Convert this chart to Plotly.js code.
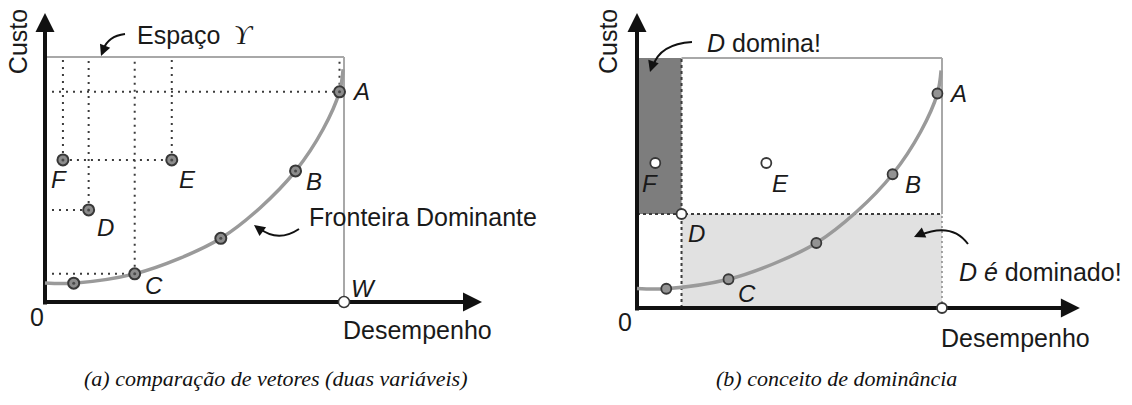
<!DOCTYPE html>
<html>
<head>
<meta charset="utf-8">
<script src="https://cdn.plot.ly/plotly-3.0.1.min.js"></script>
<style>html,body{margin:0;padding:0;background:#fff;}#chart{width:1132px;height:405px;}</style>
</head>
<body>
<div id="chart"></div>
<script>
// ---- data (unit box: Desempenho 0..1, Custo 0..1) ----
const frontX = [0.096, 0.300, 0.588, 0.838, 0.985];
const frontY = [0.077, 0.115, 0.260, 0.535, 0.858];
const frontLabels = ['', 'C', '', 'B', 'A'];
const otherX = [0.060, 0.424, 0.146];
const otherY = [0.580, 0.580, 0.376];
const otherLabels = ['F', 'E', 'D'];
const worstX = [1.0];
const worstY = [0.0];
const worstLabels = ['W'];
const curveX = [0.000, 0.096, 0.300, 0.450, 0.588, 0.720, 0.838, 0.930, 0.985, 0.997];
const curveY = [0.078, 0.077, 0.115, 0.178, 0.260, 0.385, 0.535, 0.705, 0.858, 0.950];
const boxMax = 1.0;
const texts = {
  yTitle: 'Custo', xTitle: 'Desempenho', origin: '0',
  space: 'Espaço', spaceSym: 'ϒ', frontier: 'Fronteira Dominante',
  dom: '<i>D</i> domina!', domd: '<i>D</i> <i>é</i> dominado!',
  capA: '(a) comparação de vetores (duas variáveis)',
  capB: '(b) conceito de dominância'
};

const SANS = 'Liberation Sans, Arial, sans-serif';
const SERIF = 'Liberation Serif, Times New Roman, serif';
const DOT = '#3c3c3c';
const BOXC = '#a8a8a8';
const FS = 25;

const iD = otherLabels.indexOf('D');
const Dx = otherX[iD], Dy = otherY[iD];

const traces = [];
const shapes = [];
const annotations = [];

function line(xr, yr, x0, y0, x1, y1, color, width, dash) {
  shapes.push({type: 'line', xref: xr, yref: yr, x0: x0, y0: y0, x1: x1, y1: y1,
    layer: 'below', line: {color: color, width: width, dash: dash || 'solid'}});
}
function txt(xr, yr, x, y, text, opts) {
  annotations.push(Object.assign({xref: xr, yref: yr, x: x, y: y, text: text, showarrow: false,
    font: {family: SANS, size: FS, color: '#1a1a1a'}, xanchor: 'center', yanchor: 'middle'}, opts || {}));
}
function head(xr, yr, x, y, ax, ay, width, size) {
  annotations.push({xref: xr, yref: yr, x: x, y: y, ax: ax, ay: ay, text: '', showarrow: true,
    arrowhead: 2, arrowsize: size, arrowwidth: width, arrowcolor: '#111'});
}
const LBL = {family: SANS, size: 24, color: '#1a1a1a'};

// ---------------- panel (a) ----------------
(function () {
  const xr = 'x', yr = 'y';
  line(xr, yr, 0, boxMax, boxMax, boxMax, BOXC, 2);
  line(xr, yr, boxMax, 0, boxMax, boxMax, BOXC, 2);
  const dash = '2px,5px';
  const allX = frontX.concat(otherX), allY = frontY.concat(otherY), allL = frontLabels.concat(otherLabels);
  ['F', 'D', 'C', 'E', 'A'].forEach(function (l) {
    const i = allL.indexOf(l);
    line(xr, yr, allX[i], allY[i], allX[i], boxMax, DOT, 2, dash);
  });
  ['A', 'D', 'C'].forEach(function (l) {
    const i = allL.indexOf(l);
    line(xr, yr, 0, allY[i], allX[i], allY[i], DOT, 2, dash);
  });
  const iF = allL.indexOf('F'), iE = allL.indexOf('E');
  line(xr, yr, allX[iF], allY[iF], allX[iE], allY[iE], DOT, 2, dash);
  line(xr, yr, 0, -0.01, 0, 1.12, '#111', 4);
  line(xr, yr, -0.005, 0, 1.40, 0, '#111', 4);
  head(xr, yr, 0, 1.18, 0, 22, 4, 0.95);
  head(xr, yr, 1.4615, 0, -22, 0, 4, 0.95);

  traces.push({x: curveX, y: curveY, xaxis: 'x', yaxis: 'y', mode: 'lines',
    line: {shape: 'spline', smoothing: 1, color: '#9a9a9a', width: 3.5}, hoverinfo: 'skip'});
  traces.push({x: frontX.concat(otherX), y: frontY.concat(otherY), xaxis: 'x', yaxis: 'y', mode: 'markers',
    marker: {size: 11, color: '#8c8c8c', line: {color: '#383838', width: 2}}});
  traces.push({x: frontX.concat(otherX), y: frontY.concat(otherY), xaxis: 'x', yaxis: 'y', mode: 'markers',
    marker: {size: 3, color: '#4a4a4a'}});
  traces.push({x: worstX, y: worstY, xaxis: 'x', yaxis: 'y', mode: 'markers',
    marker: {size: 11, color: '#ffffff', line: {color: '#383838', width: 1.5}}});

  const off = {A: [10, 0, 'left'], B: [8, -11, 'left'], C: [8, -12, 'left'],
               F: [-4, -20, 'center'], E: [5, -20, 'left'], D: [6, -18, 'left'], W: [5, 14, 'left']};
  const labX = frontX.concat(otherX, worstX), labY = frontY.concat(otherY, worstY),
        labL = frontLabels.concat(otherLabels, worstLabels);
  labL.forEach(function (l, i) {
    if (!l) return;
    const o = off[l];
    txt(xr, yr, labX[i], labY[i], '<i>' + l + '</i>', {xanchor: o[2], xshift: o[0], yshift: o[1], font: LBL});
  });
  txt(xr, yr, -0.027, -0.061, texts.origin);
  txt(xr, yr, -0.09, 1.061, texts.yTitle, {textangle: -90});
  txt(xr, yr, 1.246, -0.114, texts.xTitle);
  txt(xr, yr, 0.301, 1.09, texts.space, {xanchor: 'left'});
  txt(xr, yr, 0.666, 1.09, '<i>' + texts.spaceSym + '</i>', {font: {family: SERIF, size: 27, color: '#1a1a1a'}});
  txt(xr, yr, 0.876, 0.347, texts.frontier, {xanchor: 'left'});
  shapes.push({type: 'path', xref: xr, yref: yr, layer: 'above',
    path: 'M0.2676,1.0939 Q0.2107,1.0857 0.194,1.0286', line: {color: '#111', width: 2}});
  head(xr, yr, 0.1873, 1.0041, 4, -10, 2, 1.1);
  shapes.push({type: 'path', xref: xr, yref: yr, layer: 'above',
    path: 'M0.8495,0.298 Q0.7793,0.2408 0.7157,0.302', line: {color: '#111', width: 2}});
  head(xr, yr, 0.699, 0.3143, 8, 6, 2, 1.1);
})();

// ---------------- panel (b) ----------------
(function () {
  const xr = 'x2', yr = 'y2';
  shapes.push({type: 'rect', xref: xr, yref: yr, x0: 0, x1: Dx, y0: Dy, y1: boxMax, layer: 'below',
    fillcolor: '#7d7d7d', line: {width: 0}});
  shapes.push({type: 'rect', xref: xr, yref: yr, x0: Dx, x1: boxMax, y0: 0, y1: Dy, layer: 'below',
    fillcolor: '#e1e1e1', line: {width: 0}});
  line(xr, yr, Dx, boxMax, boxMax, boxMax, BOXC, 2);
  line(xr, yr, boxMax, Dy, boxMax, boxMax, BOXC, 2);
  line(xr, yr, boxMax, 0, boxMax, Dy, '#8a8a8a', 1.5, '2px,3px');
  line(xr, yr, Dx, 0, Dx, boxMax, DOT, 2, '3px,3px');
  line(xr, yr, 0, Dy, boxMax, Dy, DOT, 2, '3px,3px');
  line(xr, yr, 0, -0.01, 0, 1.12, '#111', 4);
  line(xr, yr, -0.005, 0, 1.39, 0, '#111', 4);
  head(xr, yr, 0, 1.18, 0, 22, 4, 0.95);
  head(xr, yr, 1.452, 0, -22, 0, 4, 0.95);

  traces.push({x: curveX, y: curveY, xaxis: 'x2', yaxis: 'y2', mode: 'lines',
    line: {shape: 'spline', smoothing: 1, color: '#9a9a9a', width: 3.5}, hoverinfo: 'skip'});
  traces.push({x: frontX, y: frontY, xaxis: 'x2', yaxis: 'y2', mode: 'markers',
    marker: {size: 10, color: '#939393', line: {color: '#383838', width: 1.8}}});
  traces.push({x: otherX.concat(worstX), y: otherY.concat(worstY), xaxis: 'x2', yaxis: 'y2', mode: 'markers',
    marker: {size: 10, color: '#ffffff', line: {color: '#383838', width: 1.8}}});

  const off = {A: [10, 0, 'left'], B: [10, -10, 'left'], C: [7, -14, 'left'],
               F: [-5.5, -20, 'center'], E: [4, -20, 'left'], D: [4, -19, 'left']};
  const labX = frontX.concat(otherX), labY = frontY.concat(otherY), labL = frontLabels.concat(otherLabels);
  labL.forEach(function (l, i) {
    if (!l) return;
    const o = off[l];
    txt(xr, yr, labX[i], labY[i], '<i>' + l + '</i>', {xanchor: o[2], xshift: o[0], yshift: o[1], font: LBL});
  });
  txt(xr, yr, -0.038, -0.056, texts.origin);
  txt(xr, yr, -0.095, 1.064, texts.yTitle, {textangle: -90});
  txt(xr, yr, 1.241, -0.12, texts.xTitle);
  txt(xr, yr, 0.223, 1.06, texts.dom, {xanchor: 'left'});
  txt(xr, yr, 1.049, 0.144, texts.domd, {xanchor: 'left'});
  shapes.push({type: 'path', xref: xr, yref: yr, layer: 'above',
    path: 'M0.1803,1.064 Q0.0754,1.056 0.0525,0.968', line: {color: '#111', width: 2}});
  head(xr, yr, 0.0426, 0.944, 3, -9, 2, 1.1);
  shapes.push({type: 'path', xref: xr, yref: yr, layer: 'above',
    path: 'M1.0852,0.256 Q1.0328,0.344 0.9279,0.292', line: {color: '#111', width: 2}});
  head(xr, yr, 0.9082, 0.284, 9, -4, 2, 1.1);
})();

// captions
annotations.push({xref: 'paper', yref: 'paper', x: 275 / 1132, y: 1 - 378 / 405, text: '<i>' + texts.capA + '</i>',
  showarrow: false, font: {family: SERIF, size: 22, color: '#111'}, xanchor: 'center', yanchor: 'middle'});
annotations.push({xref: 'paper', yref: 'paper', x: 836 / 1132, y: 1 - 378 / 405, text: '<i>' + texts.capB + '</i>',
  showarrow: false, font: {family: SERIF, size: 22, color: '#111'}, xanchor: 'center', yanchor: 'middle'});

const hidden = {showgrid: false, zeroline: false, showline: false, showticklabels: false, ticks: '', fixedrange: true};
const layout = {
  width: 1132, height: 405, margin: {l: 0, r: 0, t: 0, b: 0},
  paper_bgcolor: '#ffffff', plot_bgcolor: 'rgba(0,0,0,0)', showlegend: false,
  xaxis: Object.assign({domain: [0, 0.5], range: [-0.1505, 1.7425], anchor: 'y'}, hidden),
  yaxis: Object.assign({domain: [0, 1], range: [-0.4204, 1.2327], anchor: 'x'}, hidden),
  xaxis2: Object.assign({domain: [0.5, 1], range: [-0.2328, 1.623], anchor: 'y2'}, hidden),
  yaxis2: Object.assign({domain: [0, 1], range: [-0.388, 1.232], anchor: 'x2'}, hidden),
  shapes: shapes, annotations: annotations, hovermode: false
};
Plotly.newPlot('chart', traces, layout, {staticPlot: true, displayModeBar: false});
</script>
</body>
</html>
